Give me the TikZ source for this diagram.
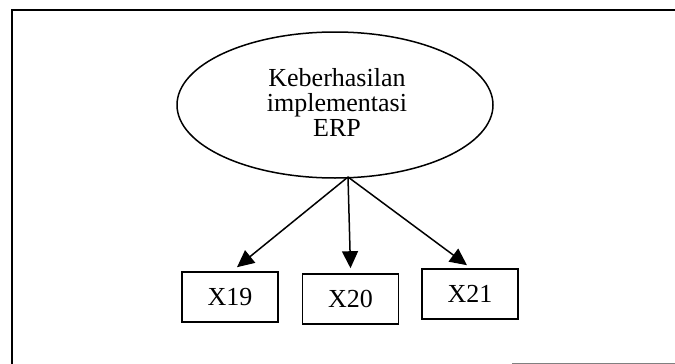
\documentclass[tikz,border=0pt]{standalone}
\usepackage{fontspec}
\setmainfont{Liberation Serif}
\usetikzlibrary{arrows.meta,shapes.geometric}
\begin{document}
\begin{tikzpicture}[x=1pt,y=-1pt,
  ln/.style={line width=1.6pt},
  txt/.style={font=\fontsize{26}{25}\selectfont},
  box/.style={draw,line width=1.6pt,minimum width=96pt,minimum height=50pt,inner sep=0pt,txt},
  arr/.style={line width=1.5pt,-{Triangle[length=17pt,width=16pt]}}]
\useasboundingbox (0,0) rectangle (675,364);
\draw[ln] (12,364) -- (12,10) -- (675,10);
\draw[gray,line width=1pt] (512,363) -- (675,363);
\node[draw,ellipse,line width=1.5pt,minimum width=316pt,minimum height=146pt,inner sep=0pt] (e) at (335,105) {};
\node[align=center,txt,inner sep=0pt] (t) at (337,102) {Keberhasilan\\implementasi\\ERP};
\coordinate (o) at (348,177);
\node[box] (b1) at (230,297) {X19};
\node[box] (b2) at (350.5,299) {X20};
\node[box] (b3) at (470,294) {X21};
\draw[arr] (o) -- ([xshift=7pt,yshift=4pt]b1.north);
\draw[arr] (o) -- ([yshift=5pt]b2.north);
\draw[arr] (o) -- ([xshift=-3pt,yshift=3pt]b3.north);
\end{tikzpicture}
\end{document}
